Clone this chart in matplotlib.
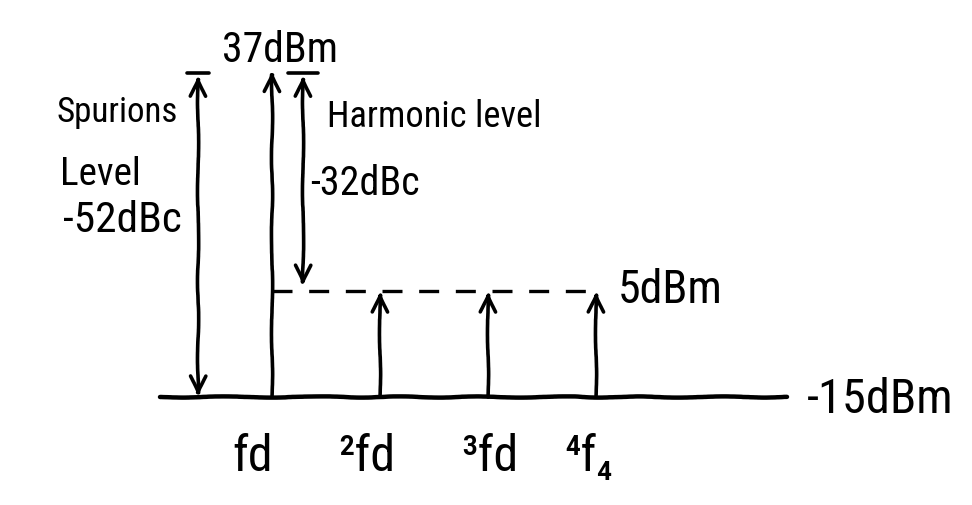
import numpy as np
import matplotlib
matplotlib.use("Agg")
import matplotlib.pyplot as plt
from matplotlib import font_manager
from matplotlib.patches import FancyArrowPatch, ArrowStyle

# levels in dBm
carrier_level = 37
harmonic_level = 5
floor_level = -15

# tones, in multiples of fd
tone_pos = [1, 2, 3, 4]
tone_level = [carrier_level, harmonic_level, harmonic_level, harmonic_level]
tone_labels = ["fd", "²fd", "³fd", "⁴f₄"]
label_shift = [-19, -13, 2, -7]   # px, handwritten labels sit a bit off the tones

spur_dbc = carrier_level - floor_level        # 52
harm_dbc = carrier_level - harmonic_level     # 32

# handwriting is narrow: take a narrow face if there is one
names = {f.name for f in font_manager.fontManager.ttflist}
FONT, FS = "Liberation Sans", 1.0
for n in ["Liberation Sans Narrow", "Roboto Condensed", "DejaVu Sans Condensed"]:
    if n in names:
        FONT, FS = n, 1.2
        break
plt.rcParams["font.family"] = [FONT, "DejaVu Sans"]

# the sketch is not linear in dB: bend the y axis a bit
K = 0.0065


def fwd(v):
    u = np.maximum(np.asarray(v, float) - floor_level, -70)
    return u + K * u * u


def inv(t):
    t = np.asarray(t, float)
    return floor_level + (np.sqrt(np.clip(1 + 4 * K * t, 1e-9, None)) - 1) / (2 * K)


fig = plt.figure(figsize=(9.72, 5.06), dpi=100)
ax = fig.add_axes([0, 0, 1, 1])
ax.set_yscale("function", functions=(fwd, inv))
ax.set_xlim(-1.519, 7.481)
ax.set_ylim(inv(-23.0), inv(84.8))
ax.axis("off")

LW = 2.6
SK = (0.6, 120, 4)
head = ArrowStyle("->", head_length=0.6, head_width=0.28)


def arrow(x, y0, y1, style=head):
    p = FancyArrowPatch((x, y0), (x, y1), arrowstyle=style, mutation_scale=20,
                        lw=LW, color="black", shrinkA=0, shrinkB=0,
                        capstyle="round", joinstyle="round")
    p.set_sketch_params(*SK)
    ax.add_patch(p)


# floor line
base, = ax.plot([-0.04, 5.77], [floor_level, floor_level], color="black", lw=3.2,
                solid_capstyle="round")
base.set_sketch_params(*SK)

# tones
for x, lvl in zip(tone_pos, tone_level):
    arrow(x, floor_level, lvl)

# harmonic level dashed line
dash, = ax.plot([tone_pos[0], tone_pos[-1]], [harmonic_level, harmonic_level],
                color="black", lw=2.4, linestyle=(0, (6, 5)))

# spurious level span
both = ArrowStyle("<->", head_length=0.6, head_width=0.28)
sx = 0.315
arrow(sx, carrier_level - 0.6, floor_level, both)
ax.plot([sx - 0.1, sx + 0.1], [carrier_level - 0.3, carrier_level - 0.3],
        color="black", lw=LW, solid_capstyle="round")

# harmonic level span
hx = 1.287
arrow(hx, carrier_level - 0.6, harmonic_level + 0.8, both)
ax.plot([hx - 0.14, hx + 0.14], [carrier_level - 0.3, carrier_level - 0.3],
        color="black", lw=LW, solid_capstyle="round")


def txt(s, px, py, size, ha="left"):
    ax.text(px / 972, 1 - py / 506, s, transform=ax.transAxes, ha=ha,
            va="baseline", fontsize=size * FS, color="black")


txt(f"{carrier_level}dBm", 280, 62, 25, "center")
txt("Spurions", 57, 122, 21)
txt("Level", 60, 185, 23.5)
txt(f"-{spur_dbc}dBc", 63, 232, 26)
txt("Harmonic level", 327, 127, 21.8)
txt(f"-{harm_dbc}dBc", 310, 195, 24)
txt(f"{harmonic_level}dBm", 618, 303, 27.5)
txt(f"{floor_level}dBm", 807, 413, 29)

for x, lab, dx in zip(tone_pos, tone_labels, label_shift):
    ax.annotate(lab, (x, floor_level), xytext=(dx, -73),
                textcoords="offset pixels", ha="center", va="baseline",
                fontsize=30 * FS)

fig.savefig("out.png", dpi=100, facecolor="white")
